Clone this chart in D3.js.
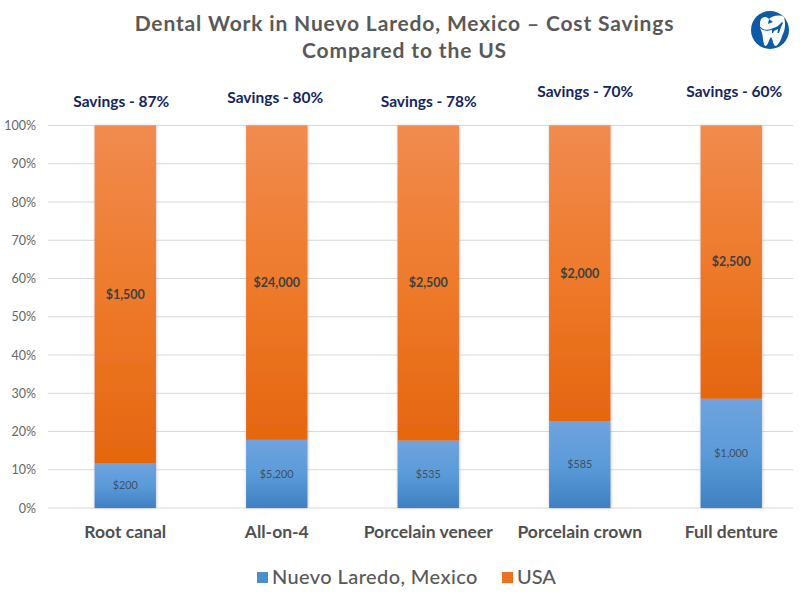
<!DOCTYPE html>
<html>
<head>
<meta charset="utf-8">
<script src="https://d3js.org/d3.v7.min.js"></script>
<style>
  html, body { margin: 0; padding: 0; background: #fff; }
  svg { display: block; }
  text { font-family: Lato, "Open Sans", sans-serif; }
</style>
</head>
<body>
<div id="chart"></div>
<script>
var categories = ['Root canal', 'All-on-4', 'Porcelain veneer', 'Porcelain crown', 'Full denture'];
var mexicoCost = [200, 5200, 535, 585, 1000];
var usaCost = [1500, 24000, 2500, 2000, 2500];
var savings = ['Savings - 87%', 'Savings - 80%', 'Savings - 78%', 'Savings - 70%', 'Savings - 60%'];
var percentTicks = [0, 0.1, 0.2, 0.3, 0.4, 0.5, 0.6, 0.7, 0.8, 0.9, 1];
var titleLines = ['Dental Work in Nuevo Laredo, Mexico \u2013 Cost Savings', 'Compared to the US'];
var seriesNames = ['Nuevo Laredo, Mexico', 'USA'];

// the savings labels sit unevenly above the bars in the original
var savingsLift = [24, 28, 24, 34, 34];
var savingsShift = [-4, -1.5, 0.5, 5.5, 3];

var rows = categories.map(function(c, i) {
  return {category: c, mexico: mexicoCost[i], usa: usaCost[i]};
});
var stacked = d3.stack().keys(['mexico', 'usa']).offset(d3.stackOffsetExpand)(rows);

var svg = d3.select('#chart').append('svg').attr('width', 800).attr('height', 600);

var x = d3.scaleBand().domain(categories).range([49.5, 807]).paddingInner(0.595).paddingOuter(0.2975);
var y = d3.scaleLinear().domain([0, 1]).range([508, 125.5]);

var defs = svg.append('defs');
function gradient(id, stops) {
  var g = defs.append('linearGradient').attr('id', id).attr('x1', 0).attr('y1', 0).attr('x2', 0).attr('y2', 1);
  stops.forEach(function(s) {
    g.append('stop').attr('offset', s[0]).attr('stop-color', s[1]);
  });
}
gradient('gradMexico', [[0, '#6fa3de'], [0.5, '#5b9bd9'], [1, '#3f80c2']]);
gradient('gradUsa', [[0, '#f18b4f'], [0.5, '#ee7a2b'], [1, '#e5660f']]);
var shadow = defs.append('filter').attr('id', 'barShadow')
  .attr('x', '-10%').attr('y', '-2%').attr('width', '120%').attr('height', '104%');
shadow.append('feDropShadow').attr('dx', 0.5).attr('dy', 0).attr('stdDeviation', 1.4)
  .attr('flood-color', '#888').attr('flood-opacity', 0.55);

// gridlines
svg.append('g').selectAll('line').data(percentTicks).enter().append('line')
  .attr('x1', 48).attr('x2', 793)
  .attr('y1', function(d) { return y(d); })
  .attr('y2', function(d) { return y(d); })
  .attr('stroke', '#d9d9d9').attr('stroke-width', 1);

// y axis labels
var yAxis = d3.axisLeft(y).tickValues(percentTicks).tickFormat(d3.format('.0%')).tickSize(0).tickPadding(0);
var yg = svg.append('g').attr('transform', 'translate(36,0)').call(yAxis);
yg.select('.domain').remove();
yg.selectAll('text').attr('font-size', 12.5).attr('fill', '#666');

// bars
var colors = {mexico: 'url(#gradMexico)', usa: 'url(#gradUsa)'};
var groups = svg.append('g').attr('filter', 'url(#barShadow)').selectAll('g').data(stacked).enter().append('g')
  .attr('fill', function(s) { return colors[s.key]; });
groups.selectAll('rect').data(function(s) { return s; }).enter().append('rect')
  .attr('x', function(d) { return x(d.data.category); })
  .attr('y', function(d) { return y(d[1]); })
  .attr('width', x.bandwidth())
  .attr('height', function(d) { return y(d[0]) - y(d[1]); });

// value labels
var money = d3.format('$,');
svg.append('g').selectAll('text').data(stacked[0]).enter().append('text')
  .attr('x', function(d) { return x(d.data.category) + x.bandwidth() / 2; })
  .attr('y', function(d) { return (y(d[0]) + y(d[1])) / 2; })
  .attr('dy', '0.35em').attr('text-anchor', 'middle')
  .attr('font-size', 10.8).attr('fill', '#404f60')
  .text(function(d) { return money(d.data.mexico); });
svg.append('g').selectAll('text').data(stacked[1]).enter().append('text')
  .attr('x', function(d) { return x(d.data.category) + x.bandwidth() / 2; })
  .attr('y', function(d) { return (y(d[0]) + y(d[1])) / 2; })
  .attr('dy', '0.35em').attr('text-anchor', 'middle')
  .attr('font-size', 12.5).attr('font-weight', 700).attr('fill', '#404040')
  .text(function(d) { return money(d.data.usa); });

// savings labels
svg.append('g').selectAll('text').data(savings).enter().append('text')
  .attr('x', function(d, i) { return x(categories[i]) + x.bandwidth() / 2 + savingsShift[i]; })
  .attr('y', function(d, i) { return y(1) - savingsLift[i]; })
  .attr('dy', '0.35em').attr('text-anchor', 'middle')
  .attr('font-size', 15.5).attr('font-weight', 700).attr('fill', '#14265c')
  .text(function(d) { return d; });

// category labels
var xAxis = d3.axisBottom(x).tickSize(0).tickPadding(0);
var xg = svg.append('g').attr('transform', 'translate(0,526)').call(xAxis);
xg.select('.domain').remove();
xg.selectAll('text').attr('font-size', 17.5).attr('font-weight', 700).attr('fill', '#505050').attr('font-family', 'Lato');

// title
svg.append('g').selectAll('text').data(titleLines).enter().append('text')
  .attr('x', 404.5).attr('y', function(d, i) { return 31 + i * 27; })
  .attr('text-anchor', 'middle').attr('font-size', 21).attr('font-weight', 700)
  .attr('letter-spacing', 0.85).attr('fill', '#595959')
  .text(function(d) { return d; });

// legend
var legend = svg.append('g');
var legendX = [257, 502];
var legendText = [272, 517];
seriesNames.forEach(function(name, i) {
  legend.append('rect').attr('x', legendX[i]).attr('y', 572).attr('width', 11).attr('height', 11)
    .attr('fill', i == 0 ? '#4a8ed0' : '#ed7122');
  legend.append('text').attr('x', legendText[i]).attr('y', 584)
    .attr('font-size', 20).attr('font-weight', 500).attr('letter-spacing', i == 0 ? 0.4 : 0).attr('fill', '#595959')
    .text(name);
});

// logo: tooth with a plane on a blue disc
var logo = svg.append('g').attr('transform', 'translate(770,30)');
logo.append('circle').attr('r', 19).attr('fill', '#0e5aa7');
logo.append('path').attr('fill', '#fff')
  .attr('d', 'M-9,-11 C-6,-14 -3,-13 -1,-11 C2,-14 9,-16 14,-13 C16,-6 15,1 12,6 C11,10 9,14 6,16 C3,16 3,9 1,7 C-1,9 -2,16 -5,16 C-7,13 -7,7 -8,3 C-10,-1 -11,-7 -9,-11 Z');
logo.append('path').attr('fill', '#0e5aa7')
  .attr('d', 'M-1,-11 L3,-8 L-2,-6 Z');
logo.append('path').attr('fill', 'none').attr('stroke', '#0e5aa7').attr('stroke-width', 1.2)
  .attr('d', 'M-10,-3 C-7,1 -1,1 5,-2');
logo.append('path').attr('fill', '#0e5aa7')
  .attr('d', 'M2,-1 L8,-4 L12,-8 L13,-7 L11,-3 L9,3 L7.5,3 L8,-1 L4,1 L3,3 L2,3 Z');
</script>
</body>
</html>
